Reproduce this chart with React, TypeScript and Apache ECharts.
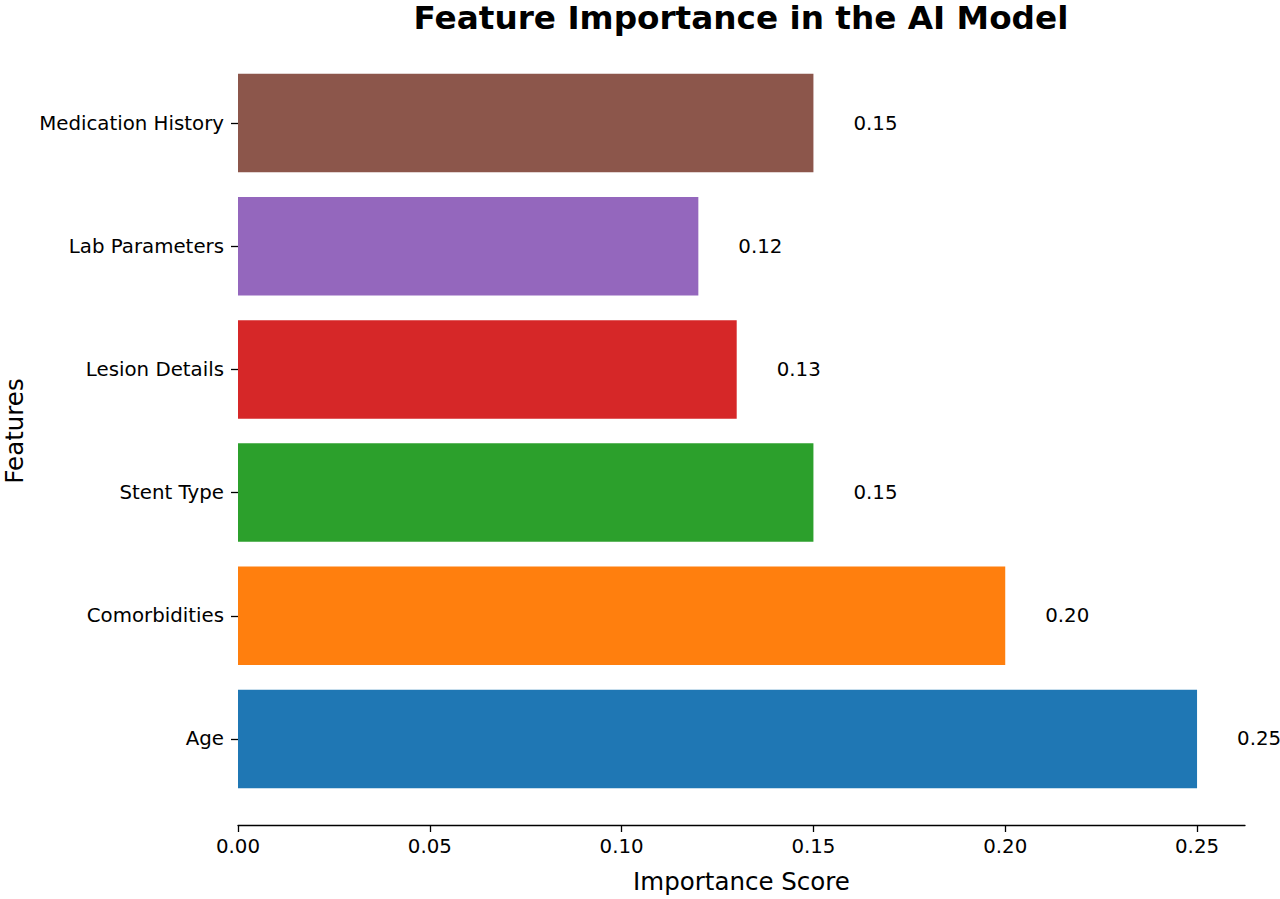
import React from 'react';
import * as echarts from 'echarts';

// bottom to top, as drawn
const features = ['Age', 'Comorbidities', 'Stent Type', 'Lesion Details', 'Lab Parameters', 'Medication History'];
const scores = [0.25, 0.2, 0.15, 0.13, 0.12, 0.15];
const barColors = ['#1f77b4', '#ff7f0e', '#2ca02c', '#d62728', '#9467bd', '#8c564b'];
const xTicks = [0, 0.05, 0.1, 0.15, 0.2, 0.25];

const FONT = 'DejaVu Sans';

const FeatureChart = () => {
  const chartRef = React.useRef<HTMLDivElement>(null);

  React.useEffect(() => {
    const myChart = echarts.init(chartRef.current, null, { renderer: 'svg' });

    myChart.setOption({
      animation: false,
      textStyle: { fontFamily: FONT },
      title: {
        text: 'Feature Importance in the AI Model',
        left: 741,
        top: 1,
        padding: 0,
        textAlign: 'center',
        textStyle: { fontFamily: FONT, fontSize: 32.7, fontWeight: 'bold', color: '#000' },
      },
      grid: { left: 238, right: 35, top: 61.5, bottom: 98.5, outerBoundsMode: 'none', containLabel: false },
      xAxis: {
        type: 'value',
        min: 0,
        max: 0.2625,
        offset: 25,
        name: 'Importance Score',
        nameLocation: 'middle',
        nameGap: 43,
        nameTextStyle: { fontFamily: FONT, fontSize: 24.5, color: '#000' },
        axisLine: { show: true, lineStyle: { color: '#000', width: 1.3 } },
        axisTick: { show: true, length: 6.5, lineStyle: { color: '#000', width: 1.3 }, customValues: xTicks },
        axisLabel: {
          customValues: xTicks,
          margin: 11,
          fontFamily: FONT,
          fontSize: 19.8,
          color: '#000',
          formatter: (v: number) => v.toFixed(2),
        },
        splitLine: { show: false },
      },
      yAxis: {
        type: 'category',
        data: features,
        name: 'Features',
        nameLocation: 'middle',
        nameRotate: 90,
        nameGap: 211,
        nameTextStyle: { fontFamily: FONT, fontSize: 24.5, color: '#000' },
        axisLine: { show: false },
        axisTick: { show: true, alignWithLabel: true, length: 7, lineStyle: { color: '#000', width: 1.3 } },
        axisLabel: { margin: 14, fontFamily: FONT, fontSize: 19.8, color: '#000' },
        splitLine: { show: false },
      },
      series: [
        {
          type: 'bar',
          barWidth: '80%',
          data: scores.map((s, i) => ({ value: s, itemStyle: { color: barColors[i] } })),
          label: {
            show: true,
            position: 'right',
            distance: 40,
            fontFamily: FONT,
            fontSize: 19.8,
            color: '#000',
            formatter: (p: any) => Number(p.value).toFixed(2),
          },
        },
      ],
    });

    return () => {
      myChart.dispose();
    };
  }, []);

  return (
    <div
      ref={chartRef}
      style={{ position: 'fixed', left: 0, top: 0, width: '1280px', height: '899px', background: '#fff' }}
    />
  );
};

export default function App() {
  return <FeatureChart />;
}
